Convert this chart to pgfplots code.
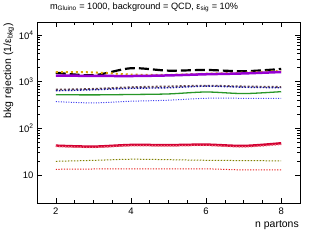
\documentclass[border=0pt]{standalone}
\usepackage{fontspec}
\setmainfont{Liberation Sans}
\usepackage{pgfplots}
\pgfplotsset{compat=1.18}
\definecolor{cgold}{RGB}{215,165,0}
\definecolor{cpurp}{RGB}{150,0,210}
\definecolor{cbrown}{RGB}{100,70,75}
\definecolor{cdblue}{RGB}{20,20,160}
\definecolor{cgreen}{RGB}{40,150,40}
\definecolor{cblue}{RGB}{60,60,240}
\definecolor{ccrim}{RGB}{210,0,50}
\definecolor{cpink}{RGB}{240,100,120}
\definecolor{colive}{RGB}{128,128,0}
\definecolor{cred}{RGB}{230,30,30}
\begin{document}
\begin{tikzpicture}
\begin{axis}[
  scale only axis, width=263bp, height=181bp,
  ymode=log, xmin=1.5, xmax=8.5, ymin=2.5, ymax=19000,
  xtick={2,4,6,8}, minor x tick num=3,
  ytick={10,100,1000,10000},
  yticklabels={10,10\textsuperscript{2},10\textsuperscript{3},10\textsuperscript{4}},
  /pgf/number format/assume math mode=true,
  tick align=inside, tick pos=both,
  major tick length=5bp, minor tick length=3bp,
  tick label style={font=\fontsize{9.5}{10}\selectfont},
  xticklabel style={yshift=-1bp},
  xlabel={n partons},
  ylabel={bkg rejection (1/ε\textsubscript{bkg})},
  label style={font=\fontsize{10.5}{11}\selectfont},
  xlabel style={at={(ticklabel cs:1)}, anchor=north east, inner sep=1bp, yshift=-2bp},
  ylabel style={at={(ticklabel cs:1)}, anchor=south east, inner sep=1bp},
  title={m\textsubscript{Gluino} = 1000, background = QCD, ε\textsubscript{sig} = 10\%},
  title style={at={(rel axis cs:0.03,1)}, anchor=south west, xshift=4bp, yshift=2.5bp, inner sep=1bp, font=\fontsize{9.2}{10}\selectfont},
  axis line style={line width=0.8bp},
  every tick/.style={black, line width=0.5bp},
  every axis plot/.append style={smooth, no markers},
]
\coordinate (bl) at (rel axis cs:0,0);
\coordinate (tr) at (rel axis cs:1,1);
\addplot[black, line width=2.2bp, dash pattern=on 10bp off 4bp] coordinates {(2,1560)(3,1370)(4,1940)(5,1720)(6,1780)(7,1670)(8,1870)};
\addplot[cgold, line width=2bp, dash pattern=on 2bp off 3bp] coordinates {(2,1600)(3,1580)(4,1420)(5,1400)(6,1480)(7,1560)(8,1690)};
\addplot[cpurp, line width=2.5bp] coordinates {(2,1350)(3,1330)(4,1320)(5,1360)(6,1440)(7,1500)(8,1610)};
\addplot[cbrown, line width=1.8bp, dash pattern=on 2bp off 2bp] coordinates {(2,674)(3,700)(4,760)(5,790)(6,820)(7,790)(8,770)};
\addplot[cdblue, line width=1.4bp, dash pattern=on 1.5bp off 1.5bp] coordinates {(2,640)(3,670)(4,720)(5,740)(6,800)(7,760)(8,740)};
\addplot[cgreen, line width=1.3bp] coordinates {(2,525)(3,520)(4,530)(5,545)(6,600)(7,555)(8,610)};
\addplot[cblue, line width=1bp, dash pattern=on 1bp off 1.5bp] coordinates {(2,373)(3,350)(4,380)(5,400)(6,440)(7,440)(8,440)};
\addplot[ccrim, line width=2.5bp] coordinates {(2,42.4)(3,40.4)(4,43.9)(5,43.5)(6,44.6)(7,41.8)(8,47.7)};
\addplot[cpink, line width=1.5bp, dash pattern=on 1.5bp off 1.5bp] coordinates {(2,41)(3,39)(4,42.5)(5,42)(6,43)(7,40)(8,45)};
\addplot[colive, line width=1bp, dash pattern=on 1.5bp off 1.5bp] coordinates {(2,19.6)(3,20.5)(4,21.7)(5,21.2)(6,20.6)(7,20.3)(8,20)};
\addplot[cred, line width=1bp, dash pattern=on 1.2bp off 1.5bp] coordinates {(2,13.2)(3,13.4)(4,13.4)(5,13.5)(6,13.5)(7,12.8)(8,12.8)};
\end{axis}
\pgfresetboundingbox
\useasboundingbox ([shift={(-37bp,-37bp)}]bl) rectangle ([shift={(10bp,22bp)}]tr);
\end{tikzpicture}
\end{document}
